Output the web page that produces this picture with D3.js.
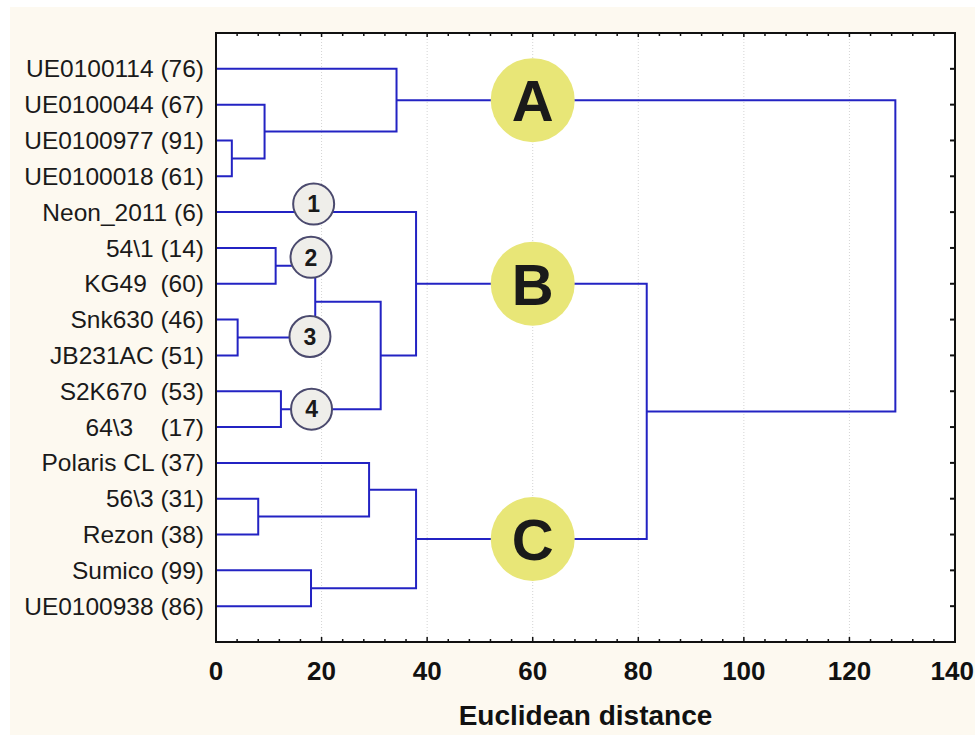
<!DOCTYPE html>
<html>
<head>
<meta charset="utf-8">
<script src="https://cdn.jsdelivr.net/npm/d3@7"></script>
<style>
  html, body { margin: 0; padding: 0; background: #ffffff; }
  svg { display: block; }
  text { font-family: "Liberation Sans", Arial, sans-serif; }
</style>
</head>
<body>
<svg id="chart" width="975" height="736"></svg>
<script>
// Leaf labels, top to bottom
const leafLabels = [
  "UE0100114 (76)", "UE0100044 (67)", "UE0100977 (91)", "UE0100018 (61)",
  "Neon_2011 (6)", "54\\1 (14)", "KG49  (60)", "Snk630 (46)", "JB231AC (51)",
  "S2K670  (53)", "64\\3    (17)", "Polaris CL (37)", "56\\3 (31)",
  "Rezon (38)", "Sumico (99)", "UE0100938 (86)"
];

// Linkage: [child A, child B, distance]; ids >= 16 refer to earlier merges
const linkage = [
  [2, 3, 3.0],      // 16
  [1, 16, 9.2],     // 17
  [0, 17, 34.2],    // 18  cluster A
  [5, 6, 11.3],     // 19
  [7, 8, 4.1],      // 20
  [19, 20, 18.8],   // 21
  [9, 10, 12.3],    // 22
  [21, 22, 31.2],   // 23
  [4, 23, 37.9],    // 24  cluster B
  [12, 13, 8.0],    // 25
  [11, 25, 29.0],   // 26
  [14, 15, 18.0],   // 27
  [26, 27, 37.9],   // 28  cluster C
  [24, 28, 81.6],   // 29
  [18, 29, 128.7]   // 30  root
];

// Axis ticks
const majorTicks = [0, 20, 40, 60, 80, 100, 120, 140];
const minorStep = 4;
const axisTitle = "Euclidean distance";

// Cluster badges: letter, node id, distance at which the badge sits
const clusterBadges = [
  { label: "A", node: 18, at: 60 },
  { label: "B", node: 24, at: 60 },
  { label: "C", node: 28, at: 60 }
];
// Sub-group badges
const groupBadges = [
  { label: "1", node: 4,  at: 18.5 },
  { label: "2", node: 19, at: 18.0 },
  { label: "3", node: 20, at: 17.8 },
  { label: "4", node: 22, at: 18.1 }
];

const svg = d3.select("#chart");
const W = 975, H = 736;
const plot = { left: 216, right: 955, top: 33, bottom: 642 };

// page backdrop
svg.append("rect").attr("x", 10).attr("y", 7).attr("width", W - 10).attr("height", 728)
  .attr("fill", "#fdf9f0");
svg.append("rect").attr("x", plot.left).attr("y", plot.top)
  .attr("width", plot.right - plot.left).attr("height", plot.bottom - plot.top)
  .attr("fill", "#ffffff");

const x = d3.scaleLinear().domain([0, 140]).range([plot.left, plot.right]);
const y = d3.scalePoint().domain(d3.range(leafLabels.length)).range([plot.top, plot.bottom]).padding(1);

// dotted vertical grid
svg.append("g").selectAll("line").data(majorTicks.filter(t => t > 0 && t < 140)).join("line")
  .attr("x1", d => x(d)).attr("x2", d => x(d))
  .attr("y1", plot.top).attr("y2", plot.bottom)
  .attr("stroke", "#d4d4d4").attr("stroke-width", 1).attr("stroke-dasharray", "1,2");

// node positions
const n = leafLabels.length;
const nodes = [];
leafLabels.forEach((l, i) => nodes.push({ x: x(0), y: y(i) }));
linkage.forEach(([a, b, d]) => {
  nodes.push({ x: x(d), y: (nodes[a].y + nodes[b].y) / 2, a, b });
});

// dendrogram elbows
const path = d3.path();
nodes.slice(n).forEach(nd => {
  const A = nodes[nd.a], B = nodes[nd.b];
  path.moveTo(A.x, A.y); path.lineTo(nd.x, A.y);
  path.lineTo(nd.x, B.y); path.lineTo(B.x, B.y);
});
svg.append("path").attr("d", path.toString())
  .attr("fill", "none").attr("stroke", "#2323c3").attr("stroke-width", 2)
  .attr("stroke-linejoin", "miter");

// frame
svg.append("rect").attr("x", plot.left).attr("y", plot.top)
  .attr("width", plot.right - plot.left).attr("height", plot.bottom - plot.top)
  .attr("fill", "none").attr("stroke", "#111").attr("stroke-width", 2);

// inward ticks on bottom and top
const minorTicks = d3.range(0, 140 + 0.001, minorStep).filter(t => t % 20 !== 0);
const tickG = svg.append("g").attr("stroke", "#111").attr("stroke-width", 1.5);
majorTicks.forEach(t => {
  tickG.append("line").attr("x1", x(t)).attr("x2", x(t)).attr("y1", plot.bottom).attr("y2", plot.bottom - 5);
  tickG.append("line").attr("x1", x(t)).attr("x2", x(t)).attr("y1", plot.top).attr("y2", plot.top + 4);
});
minorTicks.forEach(t => {
  tickG.append("line").attr("x1", x(t)).attr("x2", x(t)).attr("y1", plot.bottom).attr("y2", plot.bottom - 3);
  tickG.append("line").attr("x1", x(t)).attr("x2", x(t)).attr("y1", plot.top).attr("y2", plot.top + 3);
});
// right-side ticks at each leaf
y.domain().forEach(i => {
  tickG.append("line").attr("x1", plot.right).attr("x2", plot.right - 5)
    .attr("y1", y(i)).attr("y2", y(i)).attr("stroke-width", 2);
});

// x tick labels (the last one is kept inside the page edge)
svg.append("g").selectAll("text").data(majorTicks).join("text")
  .attr("x", d => d === 140 ? W - 1 : x(d)).attr("y", 680)
  .attr("text-anchor", d => d === 140 ? "end" : "middle")
  .attr("font-size", 26).attr("font-weight", "bold")
  .attr("fill", "#111").text(d => d);

// axis title
svg.append("text").attr("x", (plot.left + plot.right) / 2).attr("y", 725)
  .attr("text-anchor", "middle").attr("font-size", 28).attr("font-weight", "bold")
  .attr("fill", "#111").text(axisTitle);

// leaf labels
svg.append("g").selectAll("text").data(leafLabels).join("text")
  .attr("x", 204).attr("y", (d, i) => y(i) + 8.6)
  .attr("text-anchor", "end").attr("font-size", 24.5).attr("fill", "#1a1a1a")
  .attr("xml:space", "preserve").style("white-space", "pre")
  .text(d => d);

// sub-group badges
const gOffsets = [-8, -8.5, -1, 0];
groupBadges.forEach((b, i) => {
  const cx = x(b.at), cy = nodes[b.node].y + gOffsets[i];
  svg.append("circle").attr("cx", cx).attr("cy", cy).attr("r", 20.5)
    .attr("fill", "#efeeea").attr("stroke", "#4b4a6e").attr("stroke-width", 2);
  svg.append("text").attr("x", cx).attr("y", cy + 8.2)
    .attr("text-anchor", "middle").attr("font-size", 23).attr("font-weight", "bold")
    .attr("fill", "#1a1a1a").text(b.label);
});

// cluster badges
clusterBadges.forEach(b => {
  const cx = x(b.at), cy = nodes[b.node].y;
  svg.append("circle").attr("cx", cx).attr("cy", cy).attr("r", 42)
    .attr("fill", "#e8e677");
  svg.append("text").attr("x", cx).attr("y", cy + 20.8)
    .attr("text-anchor", "middle").attr("font-size", 58).attr("font-weight", "bold")
    .attr("fill", "#1a1a1a").text(b.label);
});
</script>
</body>
</html>
